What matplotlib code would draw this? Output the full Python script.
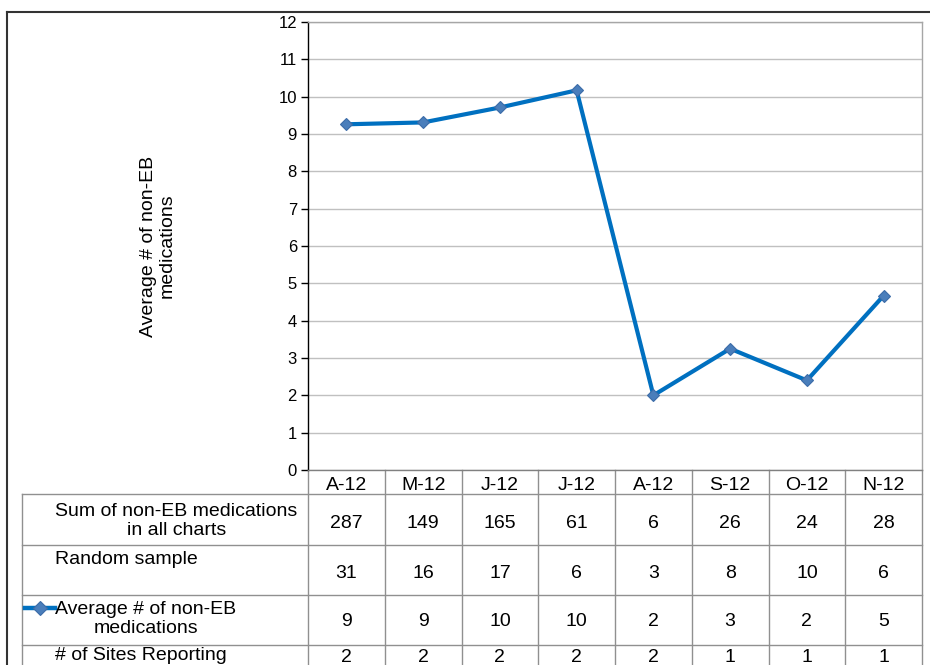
import matplotlib
matplotlib.use("Agg")
import matplotlib.pyplot as plt
from matplotlib.lines import Line2D
from matplotlib.transforms import blended_transform_factory

# ---- data ----
months = ["A-12", "M-12", "J-12", "J-12", "A-12", "S-12", "O-12", "N-12"]
sum_non_eb = [287, 149, 165, 61, 6, 26, 24, 28]
random_sample = [31, 16, 17, 6, 3, 8, 10, 6]
avg_non_eb = [9.26, 9.31, 9.71, 10.17, 2.0, 3.25, 2.4, 4.67]
sites_reporting = [2, 2, 2, 2, 2, 1, 1, 1]

row_labels = ["Sum of non-EB medications\nin all charts",
              "Random sample",
              "Average # of non-EB\nmedications",
              "# of Sites Reporting"]
y_label = "Average # of non-EB\nmedications"

plt.rcParams["font.family"] = ["Liberation Sans", "DejaVu Sans"]
tick_font = ["Liberation Sans Narrow", "Liberation Sans", "DejaVu Sans"]

W, H = 930, 665
fig = plt.figure(figsize=(W / 100, H / 100), dpi=100)
fig.patch.set_facecolor("white")

# plot area in pixel terms
PL, PR, PT, PB = 308, 922, 22, 470
ax = fig.add_axes([PL / W, (H - PB) / H, (PR - PL) / W, (PB - PT) / H])


def fx(px):
    return (px - PL) / (PR - PL)


def fy(py):
    return (PB - py) / (PB - PT)


x = list(range(len(months)))
line_color = "#0070C0"
marker_face = "#4A7EBB"
marker_edge = "#3C6CA8"

ax.plot(x, avg_non_eb, color=line_color, lw=3, marker="D", ms=6.5,
        mfc=marker_face, mec=marker_edge, mew=0.8, zorder=3,
        solid_joinstyle="miter")

ax.set_xlim(-0.5, len(months) - 0.5)
ax.set_ylim(0, 12)
ax.set_yticks(range(0, 13))
ax.set_xticks([])
ax.yaxis.grid(True, color="#c0c0c0", lw=1)
ax.set_axisbelow(True)
for lab in ax.get_yticklabels():
    lab.set_family(tick_font)
    lab.set_fontsize(12)
ax.tick_params(axis="y", direction="out", length=5, width=1, color="black", pad=3)
ax.spines["left"].set_color("black")
ax.spines["bottom"].set_color("#808080")
ax.spines["top"].set_color("#a6a6a6")
ax.spines["right"].set_color("#a6a6a6")
for s in ax.spines.values():
    s.set_linewidth(1)

ax.text(fx(158), 0.5, y_label, transform=ax.transAxes, rotation=90,
        ha="center", va="center", fontsize=14, multialignment="center",
        linespacing=1.15)

# ---- data table under the plot ----
grid_color = "#909090"
tr = blended_transform_factory(ax.transData, ax.transAxes)
row_edges = [470, 494, 545, 595, 645, 700]
label_left = 22
n = len(months)

# column separators
for i in range(n + 1):
    ax.add_line(Line2D([i - 0.5, i - 0.5], [fy(row_edges[0]), fy(row_edges[-1])],
                       transform=tr, color=grid_color, lw=1, clip_on=False))
# horizontal lines across label column and data columns
for yy in row_edges[1:-1]:
    ax.add_line(Line2D([fx(label_left), 1], [fy(yy), fy(yy)],
                       transform=ax.transAxes, color=grid_color, lw=1, clip_on=False))
ax.add_line(Line2D([fx(label_left), fx(label_left)], [fy(494), fy(700)],
                   transform=ax.transAxes, color=grid_color, lw=1, clip_on=False))

FS = 14
# header
for i, m in enumerate(months):
    ax.text(i, fy(484), m, transform=tr, ha="center", va="center_baseline",
            fontsize=FS, clip_on=False)

rows = [
    (sum_non_eb, 522, row_labels[0], 521),
    (random_sample, 571, row_labels[1], 559),
    ([round(v) for v in avg_non_eb], 620, row_labels[2], 619),
    (sites_reporting, 655, row_labels[3], 655),
]
for vals, yv, lab, yl in rows:
    for i, v in enumerate(vals):
        ax.text(i, fy(yv), f"{v:.0f}", transform=tr, ha="center",
                va="center_baseline", fontsize=FS, clip_on=False)
    ax.text(fx(55), fy(yl), lab, transform=ax.transAxes, ha="left",
            va="center", multialignment="center", fontsize=FS,
            linespacing=1.08, clip_on=False)

# legend key for the plotted series
ax.add_line(Line2D([fx(25), fx(55)], [fy(608), fy(608)], transform=ax.transAxes,
                   color=line_color, lw=3.2, clip_on=False))
ax.add_line(Line2D([fx(40)], [fy(608)], transform=ax.transAxes, marker="D",
                   ms=7, mfc=marker_face, mec=marker_edge, mew=0.8,
                   linestyle="none", clip_on=False))

# outer chart border
fig.add_artist(Line2D([7 / W, 1], [1 - 12 / H, 1 - 12 / H], transform=fig.transFigure,
                      color="#333333", lw=1.5))
fig.add_artist(Line2D([7 / W, 7 / W], [0, 1 - 12 / H], transform=fig.transFigure,
                      color="#333333", lw=1.5))

fig.savefig("out.png", dpi=100, facecolor="white")
